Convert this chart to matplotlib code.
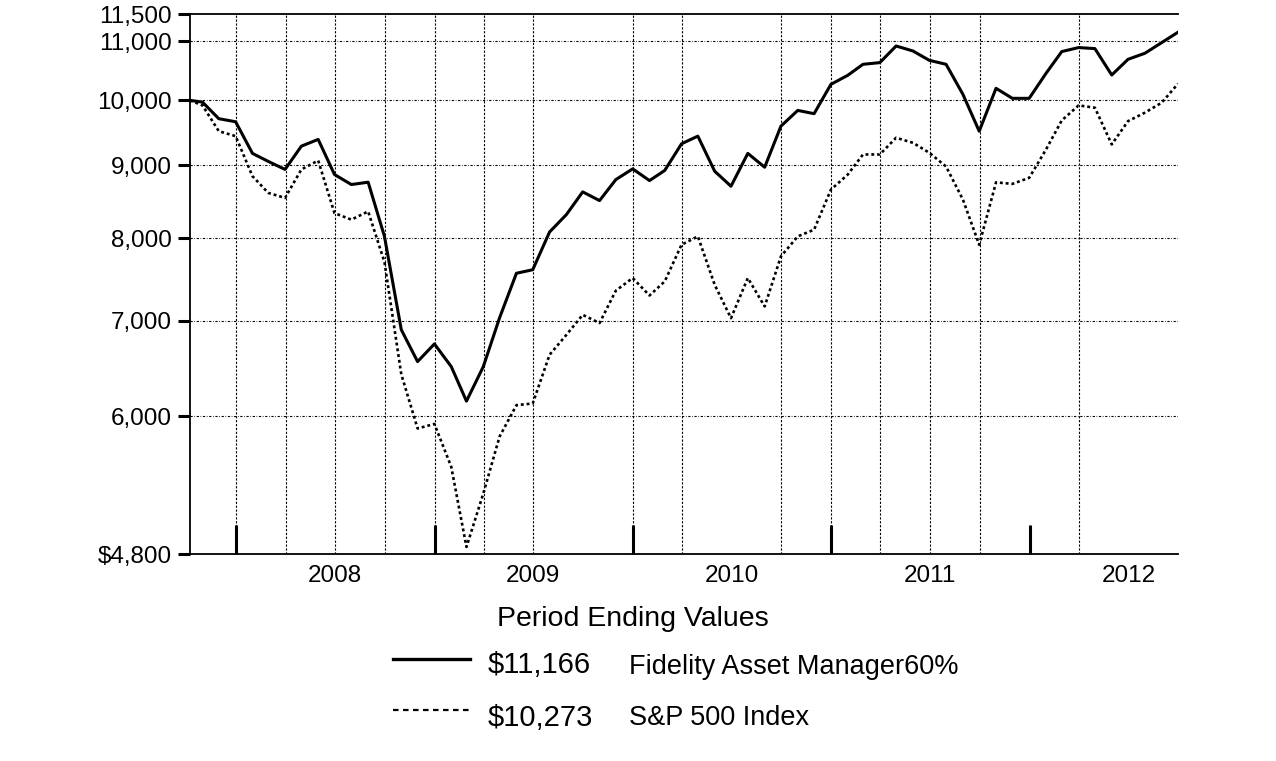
import numpy as np
import pandas as pd
import matplotlib
matplotlib.use("Agg")
import matplotlib.pyplot as plt
import matplotlib.dates as mdates
from matplotlib.lines import Line2D

plt.rcParams['font.family'] = ['Liberation Sans', 'DejaVu Sans']

# month-end dates, first point is the fund start
dates = [pd.Timestamp("2007-10-08")] + list(pd.date_range("2007-10-31", "2012-09-30", freq="ME"))

fund = [10000,
        9972, 9708, 9660,
        9178, 9060, 8943, 9286, 9388, 8870, 8727, 8760, 8025, 6900, 6553, 6743,
        6500, 6147, 6500, 7035, 7560, 7603, 8082, 8313, 8624, 8503, 8797, 8951,
        8783, 8928, 9322, 9438, 8917, 8703, 9178, 8975, 9592, 9839, 9787, 10263,
        10414, 10601, 10630, 10920, 10832, 10670, 10601, 10098, 9514, 10197, 10033, 10033,
        10447, 10822, 10892, 10874, 10419, 10687, 10792, 10980, 11166]

sp500 = [10000,
         9919, 9514, 9438,
         8846, 8610, 8540, 8942, 9073, 8333, 8245, 8355, 7700, 6420, 5881, 5924,
         5527, 4855, 5293, 5805, 6107, 6124, 6626, 6843, 7068, 6975, 7350, 7502,
         7293, 7461, 7917, 8025, 7420, 7030, 7502, 7165, 7770, 8025, 8112, 8656,
         8869, 9162, 9162, 9413, 9337, 9188, 8985, 8517, 7917, 8758, 8736, 8822,
         9236, 9681, 9919, 9882, 9312, 9670, 9803, 9963, 10273]

y_ticks = [4800, 6000, 7000, 8000, 9000, 10000, 11000, 11500]
y_labels = ["$4,800", "6,000", "7,000", "8,000", "9,000", "10,000", "11,000", "11,500"]
years = [2008, 2009, 2010, 2011, 2012]
# quarter lines that show in the original
vgrid = ["2008-01-01", "2008-04-01", "2008-07-01", "2008-10-01", "2009-01-01",
         "2009-04-01", "2009-07-01", "2010-01-01", "2010-04-01", "2010-10-01",
         "2011-01-01", "2011-04-01", "2011-07-01", "2011-10-01", "2012-04-01"]

fig = plt.figure(figsize=(12.76, 7.61), dpi=100)
ax = fig.add_axes([190/1276, 1-554/761, 988/1276, 540/761])

ax.plot(dates, fund, color='black', linewidth=2.2, zorder=3)
ax.plot(dates, sp500, color='black', linewidth=1.9, linestyle=(0, (1.1, 1.1)), zorder=3)

ax.set_yscale('log')
ax.set_ylim(4800, 11500)
ax.set_yticks(y_ticks)
ax.set_yticklabels(y_labels, fontsize=17.5)
ax.yaxis.set_minor_locator(matplotlib.ticker.NullLocator())
ax.tick_params(axis='y', direction='out', length=9, width=2.2, pad=4)

for v in y_ticks[1:-1]:
    ax.axhline(v, color='black', linewidth=0.8, linestyle=(0, (2, 1.5, 0.6, 1.5)), zorder=1)
for d in vgrid:
    ax.axvline(pd.Timestamp(d), color='black', linewidth=0.8, linestyle=(0, (2, 1.5)), zorder=1)

ax.set_xlim(pd.Timestamp("2007-10-08"), pd.Timestamp("2012-09-30"))
ax.set_xticks([pd.Timestamp(f"{y}-01-01") for y in years])
ax.set_xticklabels([])
ax.tick_params(axis='x', which='major', direction='in', length=21, width=2.2)
ax.set_xticks([pd.Timestamp(f"{y}-07-01") for y in years], minor=True)
ax.set_xticklabels([str(y) for y in years], minor=True, fontsize=17.5)
ax.tick_params(axis='x', which='minor', length=0, pad=8)

ax.spines['right'].set_visible(False)
for s in ['left', 'bottom', 'top']:
    ax.spines[s].set_linewidth(1.3)

# legend block below the chart
fig.text(633/1276, 1-619/761, "Period Ending Values", fontsize=20.5, ha='center', va='center')
fig.add_artist(Line2D([393/1276, 470/1276], [1-659/761, 1-659/761], color='black', linewidth=2.4))
fig.add_artist(Line2D([393/1276, 470/1276], [1-710/761, 1-710/761], color='black', linewidth=1.6,
                      linestyle=(0, (2.5, 2))))
fig.text(488/1276, 1-665/761, "$11,166", fontsize=21, ha='left', va='center')
fig.text(488/1276, 1-718/761, "$10,273", fontsize=21, ha='left', va='center')
fig.text(629/1276, 1-667/761, "Fidelity Asset Manager60%", fontsize=19.5, ha='left', va='center')
fig.text(629/1276, 1-718/761, "S&P 500 Index", fontsize=19.5, ha='left', va='center')

fig.savefig("out.png", dpi=100)
